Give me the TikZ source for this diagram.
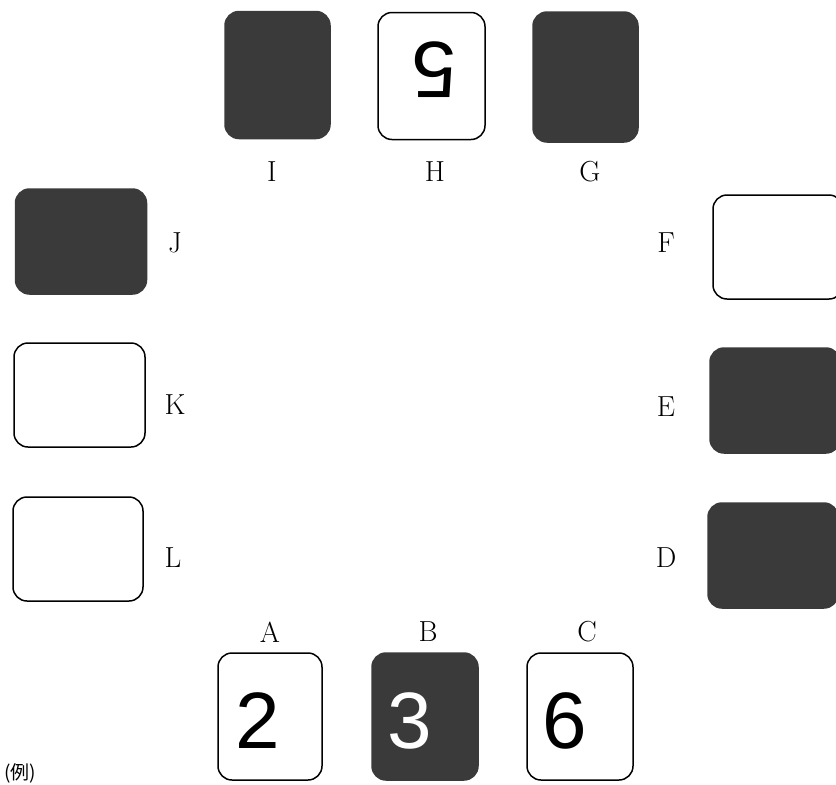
\documentclass[tikz,border=0pt]{standalone}
\usepackage{fontspec}
\newfontfamily\digitfont{Liberation Sans}
\newfontfamily\cjkfont{Noto Sans CJK JP}
\definecolor{darkcard}{RGB}{58,58,58}
\begin{document}
\begin{tikzpicture}[x=1pt,y=1pt,
  card/.style={rectangle,rounded corners=14pt,line width=1.5pt,draw=black,inner sep=0pt},
  whitecard/.style={card,fill=white},
  blackcard/.style={card,fill=darkcard,draw=darkcard},
  tall/.style={minimum width=105pt,minimum height=127pt},
  wide/.style={minimum width=131pt,minimum height=104pt},
  lbl/.style={font=\fontsize{29}{29}\selectfont,inner sep=0pt},
  digit/.style={font=\digitfont\fontsize{80}{80}\selectfont,inner sep=0pt}]
\useasboundingbox (0,0) rectangle (836,-785);
\clip (0,0) rectangle (836,-785);
% top row
\node[blackcard,tall] (I) at (277.5,-75) {};
\node[whitecard,tall,minimum width=107pt] (H) at (431.5,-76) {};
\node[blackcard,tall,minimum height=130pt] (G) at (585.5,-77) {};
\node[digit,rotate=180] (h5) at (434,-70) {5};
\node[lbl] (lI) at (272,-172) {I};
\node[lbl] (lH) at (435,-172) {H};
\node[lbl] (lG) at (590,-172) {G};
% left column
\node[blackcard,wide,minimum height=105pt] (J) at (81,-241.5) {};
\node[whitecard,wide] (K) at (79.5,-395) {};
\node[whitecard,wide,minimum width=130pt] (L) at (78,-549) {};
\node[lbl] (lJ) at (175,-243) {J};
\node[lbl] (lK) at (175,-405) {K};
\node[lbl] (lL) at (173,-558) {L};
% right column
\node[whitecard,wide,minimum width=130pt] (F) at (778,-247) {};
\node[blackcard,wide,minimum width=130pt,minimum height=105pt] (E) at (775,-400.5) {};
\node[blackcard,wide,minimum width=130pt,minimum height=105pt] (D) at (773,-555.5) {};
\node[lbl] (lF) at (666,-243) {F};
\node[lbl] (lE) at (666,-407) {E};
\node[lbl] (lD) at (666,-558) {D};
% bottom row
\node[whitecard,tall,minimum width=104pt] (A) at (270,-716.5) {};
\node[blackcard,tall,minimum width=106pt] (B) at (425,-716.5) {};
\node[whitecard,tall,minimum width=106pt] (C) at (580,-716.5) {};
\node[digit] (a2) at (258,-721) {2};
\node[digit,text=white] (b3) at (410,-721) {3};
\node[digit] (c6) at (565,-721) {6};
\node[lbl] (lA) at (270,-632) {A};
\node[lbl] (lB) at (428,-632) {B};
\node[lbl] (lC) at (587,-632) {C};
% example mark
\node[font=\cjkfont\fontsize{19}{19}\selectfont,inner sep=0pt] (ex) at (20,-773) {(例)};
\end{tikzpicture}
\end{document}
